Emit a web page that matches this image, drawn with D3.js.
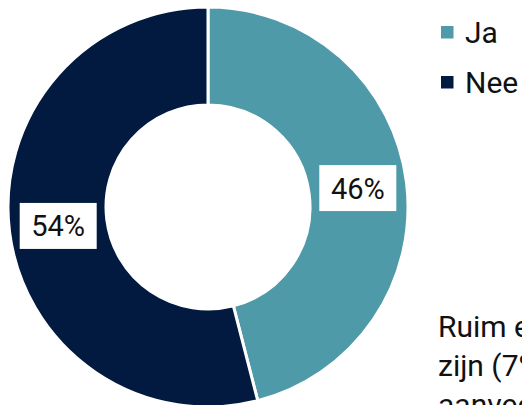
<!DOCTYPE html>
<html>
<head>
<meta charset="utf-8">
<script src="https://cdn.jsdelivr.net/npm/d3@7"></script>
<style>
  html, body { margin: 0; padding: 0; background: #fff; overflow: hidden; }
  svg { display: block; font-family: Roboto, "Noto Sans", sans-serif; }
</style>
</head>
<body>
<svg id="chart" width="522" height="405"></svg>
<script>
// Antwoorden en aandelen (procent)
const categories = ["Ja", "Nee"];
const values = [46, 54];
const colors = ["#4f9aa9", "#021a40"];
const noteLines = ["Ruim een derde van de ondervraagden", "zijn (7%) het ermee eens dat het", "aanvechtbaar is"];

const svg = d3.select("#chart");
const cx = 208, cy = 207, outerR = 200, innerR = 102;

const pie = d3.pie().sort(null).value(d => d.value);
const arc = d3.arc().innerRadius(innerR).outerRadius(outerR);
const labelArc = d3.arc().innerRadius(151).outerRadius(151);

const data = categories.map((c, i) => ({ name: c, value: values[i] }));
const color = d3.scaleOrdinal().domain(categories).range(colors);

const g = svg.append("g").attr("transform", `translate(${cx},${cy})`);
const arcs = pie(data);

g.selectAll("path.slice")
  .data(arcs)
  .join("path")
  .attr("class", "slice")
  .attr("d", arc)
  .attr("fill", d => color(d.data.name))
  .attr("stroke", "#fff")
  .attr("stroke-width", 3);

// Waardelabels in witte kaders
const lab = g.selectAll("g.lab")
  .data(arcs)
  .join("g")
  .attr("class", "lab")
  .attr("transform", d => `translate(${labelArc.centroid(d)})`);

lab.append("rect")
  .attr("x", -38.5).attr("y", -23)
  .attr("width", 77).attr("height", 46)
  .attr("fill", "#fff");

lab.append("text")
  .attr("text-anchor", "middle")
  .attr("dy", "0.36em")
  .attr("font-size", 29)
  .attr("fill", "#111")
  .text(d => d3.format(".0f")(d.data.value) + "%");

// Legenda
const legend = svg.append("g").attr("transform", "translate(441,26)");
const li = legend.selectAll("g")
  .data(categories)
  .join("g")
  .attr("transform", (d, i) => `translate(0,${i * 50})`);
li.append("rect")
  .attr("width", 12.5).attr("height", 12.5)
  .attr("fill", d => color(d));
li.append("text")
  .attr("x", 24).attr("y", 16.5)
  .attr("font-size", 30)
  .attr("fill", "#111")
  .text(d => d);

// Toelichting
svg.append("g")
  .selectAll("text")
  .data(noteLines)
  .join("text")
  .attr("x", 438)
  .attr("y", (d, i) => 337 + i * 39)
  .attr("font-size", 30)
  .attr("fill", "#111")
  .text(d => d);
</script>
</body>
</html>
